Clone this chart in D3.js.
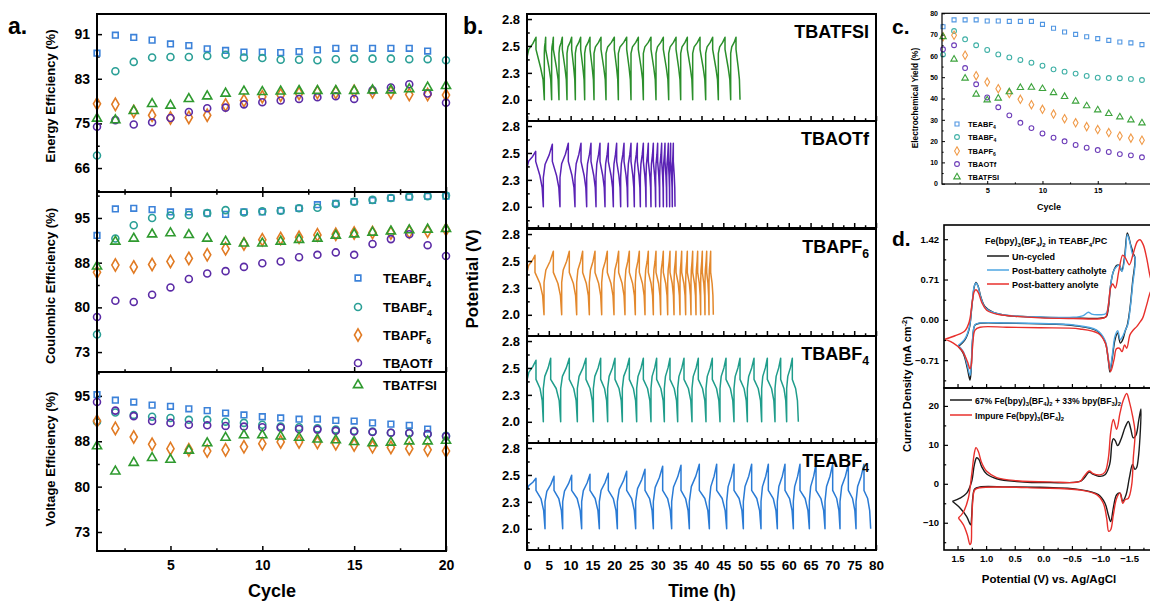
<!DOCTYPE html>
<html>
<head>
<meta charset="utf-8">
<script src="https://cdn.jsdelivr.net/npm/d3@7"></script>
<style>
  body { margin: 0; background: #fff; }
  svg { display: block; }
</style>
</head>
<body>
<svg id="fig"></svg>
<script>
var width = 1150, height = 601;
var FONT = "'Liberation Sans', Arial, Helvetica, sans-serif";

// ---------- panel a : efficiencies vs cycle ----------
var cycles = [1, 2, 3, 4, 5, 6, 7, 8, 9, 10, 11, 12, 13, 14, 15, 16, 17, 18, 19, 20];
var names = ["TEABF_4", "TBABF_4", "TBAPF_6", "TBAOTf", "TBATFSI"];

var energyTEABF4 = [87.5, 90.8, 90.4, 89.9, 89.2, 88.9, 88.3, 88.0, 87.7, 87.7, 87.6, 87.8, 88.1, 88.4, 88.4, 88.4, 88.4, 88.4, 87.9, null];
var energyTBABF4 = [68.7, 84.2, 85.9, 86.7, 86.8, 86.8, 87.0, 87.2, 86.7, 86.6, 86.3, 86.3, 86.2, 86.4, 86.5, 86.5, 86.5, 86.4, 86.4, 86.2];
var energyTBAPF6 = [78.2, 78.1, 76.8, 76.1, 75.6, 75.7, 76.1, 78.0, 78.8, 79.5, 79.8, 80.1, 80.3, 80.3, 80.5, 80.4, 80.3, 79.9, 79.9, 79.8];
var energyTBAOTf = [74.0, 75.2, 74.4, 74.8, 75.6, 76.7, 77.4, 77.5, 78.1, 78.5, 78.8, 79.1, 79.4, 79.6, 79.1, 80.7, 81.2, 81.8, 80.1, 78.4];
var energyTBATFSI = [75.5, 75.2, 76.9, 78.2, 77.9, 79.1, 79.6, 80.1, 80.5, 80.4, 80.5, 80.6, 80.6, 80.6, 80.6, 80.7, 80.7, 80.9, 81.2, 81.5];

var coulTEABF4 = [92.1, 96.5, 96.6, 96.4, 96.0, 96.0, 95.8, 95.6, 96.0, 96.0, 96.2, 96.6, 97.2, 97.4, 97.7, 97.9, 98.3, 98.5, 98.6, 98.6];
var coulTBABF4 = [75.7, 91.6, 93.8, 95.0, 95.4, 95.5, 95.8, 96.3, 95.9, 96.1, 96.2, 96.6, 96.7, 97.3, 97.7, 98.0, 98.3, 98.5, 98.6, 98.7];
var coulTBAPF6 = [86.0, 87.2, 86.9, 87.3, 87.8, 88.3, 88.9, 89.9, 90.7, 91.4, 91.6, 91.8, 92.2, 92.3, 92.5, 92.6, 92.5, 92.7, 92.8, 93.1];
var coulTBAOTf = [78.6, 81.3, 81.1, 82.3, 83.5, 84.9, 85.8, 86.2, 86.9, 87.5, 87.8, 88.5, 88.9, 89.3, 88.9, 90.7, 91.5, 92.3, 90.5, 88.7];
var coulTBATFSI = [87.0, 91.1, 91.6, 92.3, 92.5, 92.2, 91.6, 91.1, 90.8, 90.8, 91.1, 91.4, 91.6, 92.1, 92.3, 92.6, 92.8, 93.0, 93.1, 93.2];

var voltTEABF4 = [95.2, 94.3, 94.0, 93.5, 93.3, 92.9, 92.6, 92.2, 91.9, 91.6, 91.4, 91.2, 91.2, 91.0, 90.9, 90.6, 90.4, 90.2, 89.6, null];
var voltTBABF4 = [90.8, 92.3, 91.9, 91.6, 91.4, 91.1, 91.1, 90.8, 90.6, 90.3, 90.0, 89.9, 89.7, 89.5, 89.3, 89.2, 89.0, 89.0, 88.8, 88.5];
var voltTBAPF6 = [90.9, 89.7, 88.3, 87.1, 86.4, 86.2, 86.0, 86.2, 86.7, 87.2, 87.5, 87.5, 87.4, 87.2, 87.0, 86.7, 86.6, 86.4, 86.2, 86.0];
var voltTBAOTf = [94.0, 92.6, 91.7, 90.9, 90.6, 90.3, 90.2, 90.1, 90.0, 89.9, 89.8, 89.6, 89.5, 89.3, 89.2, 89.1, 89.0, 88.9, 88.8, 88.4];
var voltTBATFSI = [86.8, 82.7, 84.1, 84.9, 84.6, 86.1, 87.3, 88.2, 88.6, 88.6, 88.4, 88.2, 87.9, 87.8, 87.5, 87.3, 87.4, 87.6, 87.6, 87.7];

var aTicksEnergy = [66.4, 74.6, 82.8, 91.0];   // shown as 66, 75, 83, 91
var aTicksCV = [72.8, 80.2, 87.6, 95.0];       // shown as 73, 80, 88, 95
var aTicksCycle = [5, 10, 15, 20];

// ---------- panel b : charge/discharge curves ----------
var bTimeTicks = [0, 5, 10, 15, 20, 25, 30, 35, 40, 45, 50, 55, 60, 65, 70, 75, 80];
var bVoltTicks = [2.0, 2.2667, 2.5333, 2.8];

var tfsiPeakT = [2.06, 4.28, 6.04, 8.10, 10.24, 12.30, 14.44, 16.96, 20.02, 22.85, 25.52, 28.42, 31.25, 34.16, 36.75, 39.66, 42.56, 45.39, 47.91];
var tfsiEndT = [3.97, 5.65, 7.33, 9.17, 11.08, 13.22, 15.36, 18.11, 20.94, 23.84, 26.67, 29.57, 32.48, 35.23, 37.98, 40.96, 43.86, 46.69, 48.83];
var tfsiPeakV = [2.62, 2.62, 2.62, 2.62, 2.62, 2.62, 2.62, 2.62, 2.62, 2.62, 2.62, 2.62, 2.62, 2.62, 2.62, 2.62, 2.62, 2.62, 2.62];

var otfPeakT = [1.99, 5.81, 9.47, 12.38, 14.67, 16.73, 18.64, 20.55, 22.24, 23.84, 25.29, 26.67, 27.81, 28.96, 29.95, 30.87, 31.63, 32.40, 32.93, 33.54];
var otfEndT = [3.74, 7.56, 11.00, 13.68, 15.82, 17.88, 19.79, 21.47, 23.08, 24.60, 25.98, 27.28, 28.42, 29.49, 30.41, 31.25, 32.02, 32.70, 33.31, 33.93];
var otfPeakV = [2.55, 2.62, 2.63, 2.63, 2.63, 2.63, 2.63, 2.63, 2.63, 2.63, 2.63, 2.63, 2.63, 2.63, 2.63, 2.63, 2.63, 2.63, 2.63, 2.63];

var pf6PeakT = [1.83, 6.04, 9.70, 12.76, 15.59, 18.41, 21.01, 23.46, 25.75, 27.81, 29.57, 31.25, 32.78, 34.16, 35.46, 36.75, 37.98, 39.12, 40.19, 41.19, 42.10];
var pf6EndT = [3.90, 7.95, 11.39, 14.29, 17.12, 19.94, 22.46, 24.83, 27.05, 28.96, 30.64, 32.25, 33.70, 35.07, 36.37, 37.59, 38.74, 39.81, 40.80, 41.72, 42.71];
var pf6PeakV = [2.59, 2.63, 2.63, 2.63, 2.63, 2.63, 2.63, 2.63, 2.63, 2.63, 2.63, 2.63, 2.63, 2.63, 2.63, 2.63, 2.63, 2.63, 2.63, 2.63, 2.63];

var tbabf4PeakT = [2.06, 5.43, 9.70, 13.52, 16.89, 20.17, 23.46, 26.67, 29.72, 32.78, 35.99, 39.27, 42.48, 45.62, 48.83, 52.04, 55.09, 58.15, 60.82];
var tbabf4EndT = [3.74, 7.72, 11.54, 15.21, 18.49, 21.85, 25.14, 28.42, 31.48, 34.54, 37.82, 41.03, 44.24, 47.45, 50.51, 53.79, 56.85, 59.52, 62.20];
var tbabf4PeakV = [2.61, 2.63, 2.63, 2.63, 2.63, 2.63, 2.63, 2.63, 2.63, 2.63, 2.63, 2.63, 2.63, 2.63, 2.63, 2.63, 2.63, 2.63, 2.63];

var teabf4PeakT = [2.06, 6.19, 10.24, 14.44, 18.64, 22.85, 27.05, 31.10, 35.30, 39.50, 43.48, 47.45, 51.50, 55.32, 59.14, 62.58, 66.25, 70.07, 73.66, 77.25];
var teabf4EndT = [4.13, 8.18, 12.53, 16.58, 20.71, 24.91, 28.96, 33.16, 37.21, 41.80, 45.77, 49.59, 53.64, 57.38, 61.05, 64.72, 68.31, 71.75, 75.42, 78.78];
var teabf4PeakV = [2.50, 2.52, 2.53, 2.54, 2.55, 2.57, 2.59, 2.62, 2.63, 2.64, 2.64, 2.64, 2.64, 2.64, 2.64, 2.64, 2.64, 2.64, 2.64, 2.64];

// first voltage of each run, and [IR jump after 2.0 V, IR drop after peak, knee] voltages
var startV = [2.42, 2.39, 2.42, 2.41, 2.38];
var shapeTFSI = [2.46, 2.50, 2.30];
var shapeOTf = [2.29, 2.45, 2.29];
var shapePF6 = [2.32, 2.42, 2.29];
var shapeTBABF4 = [2.33, 2.42, 2.31];
var shapeTEABF4 = [2.27, 2.38, 2.28];

// ---------- panel c : electrochemical yield ----------
var cCycles = [1, 2, 3, 4, 5, 6, 7, 8, 9, 10, 11, 12, 13, 14, 15, 16, 17, 18, 19];
var yieldTEABF4 = [73.7, 76.9, 76.9, 76.9, 76.4, 76.4, 76.2, 76.2, 76.2, 74.8, 73.0, 71.2, 70.1, 69.0, 68.1, 67.3, 66.5, 66.1, 65.3];
var yieldTBABF4 = [60.6, 71.7, 67.8, 65.0, 62.8, 60.7, 59.3, 58.1, 56.8, 55.4, 53.7, 52.6, 51.7, 50.6, 49.8, 49.6, 49.5, 49.2, 48.7];
var yieldTBAPF6 = [69.0, 69.7, 60.3, 50.7, 47.7, 44.6, 42.3, 39.6, 37.1, 34.9, 32.7, 30.5, 28.6, 26.8, 25.4, 24.0, 22.4, 21.4, 20.4];
var yieldTBAOTf = [63.1, 65.0, 54.3, 46.7, 40.5, 35.9, 32.1, 28.6, 26.1, 23.6, 21.6, 19.9, 18.2, 16.9, 15.8, 14.9, 13.9, 13.3, 12.4];
var yieldTBATFSI = [69.0, 58.4, 49.5, 42.0, 39.3, 40.1, 43.1, 45.1, 45.2, 44.6, 42.7, 40.9, 38.7, 36.5, 34.6, 32.9, 31.3, 29.9, 28.5];
var cYTicks = [0, 10, 20, 30, 40, 50, 60, 70, 80];
var cXTicks = [5, 10, 15];

// ---------- panel d : cyclic voltammograms [potential V, current] ----------
var cvUncycled = [[1.486,-0.47],[1.369,-0.35],[1.294,-0.15],[1.247,0.26],[1.206,0.59],[1.177,0.66],[1.142,0.60],[1.095,0.41],[1.019,0.23],[0.874,0.13],[0.64,0.076],[0.058,0.047],[-0.524,0.035],[-0.991,0.03],[-1.096,0.053],[-1.137,0.205],[-1.178,0.62],[-1.225,0.85],[-1.283,0.96],[-1.33,0.96],[-1.37,0.86],[-1.42,1.1],[-1.469,1.53],[-1.528,1.32],[-1.573,1.17],[-1.603,1.09],[-1.561,0.67],[-1.516,0.21],[-1.469,-0.09],[-1.434,-0.19],[-1.388,-0.35],[-1.346,-0.41],[-1.30,-0.23],[-1.253,-0.35],[-1.206,-0.67],[-1.165,-0.92],[-1.131,-0.67],[-1.078,-0.38],[-0.933,-0.19],[-0.524,-0.10],[0.058,-0.07],[0.64,-0.06],[1.107,-0.06],[1.194,-0.09],[1.234,-0.32],[1.264,-0.91],[1.282,-1.06],[1.329,-0.85],[1.399,-0.59],[1.486,-0.47]];
var cvCatholyte = [[1.486,-0.45],[1.369,-0.33],[1.294,-0.13],[1.247,0.27],[1.206,0.60],[1.177,0.65],[1.142,0.59],[1.095,0.40],[1.019,0.22],[0.874,0.13],[0.64,0.08],[0.058,0.05],[-0.524,0.045],[-0.70,0.076],[-0.787,0.135],[-0.845,0.10],[-0.99,0.09],[-1.096,0.11],[-1.137,0.26],[-1.178,0.62],[-1.225,0.85],[-1.283,0.94],[-1.33,0.96],[-1.376,0.85],[-1.43,1.14],[-1.469,1.50],[-1.516,1.35],[-1.561,1.15],[-1.603,1.09],[-1.561,0.61],[-1.516,0.18],[-1.475,-0.09],[-1.434,-0.18],[-1.388,-0.29],[-1.346,-0.35],[-1.30,-0.19],[-1.253,-0.29],[-1.206,-0.62],[-1.165,-0.88],[-1.131,-0.64],[-1.078,-0.36],[-0.933,-0.18],[-0.524,-0.09],[0.058,-0.065],[0.64,-0.055],[1.107,-0.055],[1.194,-0.085],[1.234,-0.30],[1.264,-0.86],[1.282,-0.98],[1.329,-0.80],[1.399,-0.56],[1.486,-0.45]];
var cvAnolyte = [[1.719,-0.34],[1.544,-0.28],[1.369,-0.19],[1.294,-0.03],[1.241,0.33],[1.206,0.50],[1.177,0.53],[1.136,0.48],[1.078,0.31],[0.99,0.17],[0.816,0.10],[0.524,0.065],[0.058,0.035],[-0.524,0.023],[-0.991,0.02],[-1.09,0.05],[-1.137,0.26],[-1.178,0.57],[-1.213,0.63],[-1.259,0.56],[-1.318,0.85],[-1.388,1.14],[-1.434,1.09],[-1.504,0.97],[-1.573,1.17],[-1.643,1.38],[-1.69,1.41],[-1.748,1.32],[-1.806,1.09],[-1.876,0.73],[-1.934,0.58],[-1.876,0.50],[-1.806,0.26],[-1.736,0.03],[-1.69,-0.04],[-1.632,-0.12],[-1.573,-0.18],[-1.516,-0.26],[-1.458,-0.50],[-1.42,-0.44],[-1.376,-0.56],[-1.33,-0.50],[-1.278,-0.51],[-1.236,-0.70],[-1.178,-0.91],[-1.137,-0.70],[-1.084,-0.41],[-0.962,-0.24],[-0.64,-0.16],[0.058,-0.14],[0.64,-0.13],[1.107,-0.13],[1.194,-0.18],[1.234,-0.44],[1.264,-0.82],[1.282,-0.86],[1.329,-0.73],[1.428,-0.53],[1.573,-0.41],[1.719,-0.34]];
var cvMixed = [[1.591,-4.5],[1.457,-3.7],[1.34,-2.4],[1.253,0.6],[1.206,4.9],[1.165,6.7],[1.124,6.2],[1.078,4.4],[0.99,2.5],[0.816,1.3],[0.466,0.6],[-0.117,0.3],[-0.641,0.6],[-0.711,1.45],[-0.804,3.0],[-0.862,2.5],[-0.991,1.9],[-1.078,2.3],[-1.16,5.0],[-1.20,10.5],[-1.225,11.6],[-1.26,11.0],[-1.30,9.8],[-1.36,11.5],[-1.43,14.5],[-1.487,16.0],[-1.53,14.0],[-1.573,11.8],[-1.62,12.5],[-1.67,16.5],[-1.707,19.2],[-1.69,12.0],[-1.66,6.5],[-1.632,4.2],[-1.60,3.7],[-1.56,5.0],[-1.504,1.5],[-1.446,-2.8],[-1.388,-4.5],[-1.341,-2.4],[-1.282,-2.8],[-1.224,-6.2],[-1.178,-9.7],[-1.137,-8.0],[-1.078,-5.0],[-0.962,-2.8],[-0.641,-1.5],[0.058,-0.9],[0.64,-0.8],[1.107,-0.8],[1.2,-1.3],[1.234,-3.7],[1.253,-8.4],[1.271,-10.5],[1.34,-8.4],[1.457,-6.2],[1.591,-4.5]];
var cvImpure = [[1.486,-8.8],[1.399,-7.3],[1.311,-3.7],[1.253,2.3],[1.206,7.9],[1.177,9.3],[1.136,8.3],[1.078,5.4],[0.99,3.2],[0.816,1.6],[0.466,0.8],[-0.117,0.5],[-0.641,0.6],[-0.711,1.9],[-0.804,3.3],[-0.862,2.7],[-0.991,2.3],[-1.078,3.0],[-1.137,6.6],[-1.178,13.2],[-1.224,16.5],[-1.282,14.0],[-1.341,18.2],[-1.399,21.5],[-1.458,23.2],[-1.504,21.1],[-1.562,17.3],[-1.603,13.4],[-1.573,6.6],[-1.545,-0.3],[-1.487,-3.7],[-1.43,-4.1],[-1.388,-5.0],[-1.341,-2.4],[-1.282,-3.7],[-1.224,-8.0],[-1.178,-11.8],[-1.143,-12.2],[-1.107,-8.8],[-1.049,-5.0],[-0.933,-2.8],[-0.641,-1.6],[0.058,-1.1],[1.107,-1.0],[1.2,-1.6],[1.234,-4.6],[1.253,-10.5],[1.264,-15.2],[1.282,-15.6],[1.329,-13.1],[1.399,-10.5],[1.486,-8.8]];
var dXTicks = [-1.5, -1.0, -0.5, 0, 0.5, 1.0, 1.5];
var dTopTicks = [-0.71, 0, 0.71, 1.42];
var dBotTicks = [-10, 0, 10, 20];

// ---------- styles ----------
var colorsA = ["#3c82d9", "#2a9f96", "#e17b24", "#5b2ba6", "#2f9a2f"];
var colorsC = ["#5096e2", "#3fb0a6", "#f09a48", "#6d3db8", "#3da33d"];
var symTypes = [d3.symbolSquare, d3.symbolCircle, d3.symbolDiamond, d3.symbolCircle, d3.symbolTriangle];

var svg = d3.select("#fig").attr("width", width).attr("height", height);
var defs = svg.append("defs");

// text with _x subscripts and ^x superscripts
function rich(sel, str, fs) {
    sel.attr("font-size", fs);
    var parts = [], buf = "";
    for (var i = 0; i < str.length; i++) {
        var c = str[i];
        if ((c === "_" || c === "^") && i + 1 < str.length) {
            if (buf) { parts.push([buf, 0]); buf = ""; }
            parts.push([str[i + 1], c === "_" ? 1 : -1]);
            i++;
        } else buf += c;
    }
    if (buf) parts.push([buf, 0]);
    var cur = 0;
    parts.forEach(function (p) {
        var off = p[1] === 1 ? 0.3 * fs : (p[1] === -1 ? -0.4 * fs : 0);
        sel.append("tspan").attr("dy", off - cur).attr("font-size", p[1] ? fs * 0.68 : fs).text(p[0]);
        cur = off;
    });
    return sel;
}

function txt(g, x, y, str, fs, anchor, rot) {
    var t = g.append("text").attr("x", x).attr("y", y)
        .attr("font-family", FONT).attr("font-weight", "bold")
        .attr("text-anchor", anchor || "start").attr("fill", "#000");
    if (rot) t.attr("transform", "rotate(-90," + x + "," + y + ")");
    return rich(t, str, fs);
}

function minorVals(major, domain) {
    var s = major[1] - major[0];
    var lo = Math.min(domain[0], domain[1]), hi = Math.max(domain[0], domain[1]);
    var out = [];
    for (var v = major[0] - s / 2; v >= lo; v -= s) out.push(v);
    for (var v2 = major[0] + s / 2; v2 <= hi; v2 += s) out.push(v2);
    return out;
}

function styleAxis(a, o) {
    a.select(".domain").remove();
    a.selectAll(".tick line").attr("stroke", "#000").attr("stroke-width", o.sw);
    a.selectAll(".tick text").attr("font-family", FONT).attr("font-weight", "bold")
        .attr("font-size", o.fs).attr("fill", "#000");
}

function yAxis(g, scale, x, major, fmt, o) {
    var a = g.append("g").attr("transform", "translate(" + x + ",0)")
        .call(d3.axisLeft(scale).tickValues(major).tickSize(-o.len).tickPadding(o.pad).tickFormat(fmt));
    styleAxis(a, o);
    var m = g.append("g").attr("transform", "translate(" + x + ",0)")
        .call(d3.axisLeft(scale).tickValues(minorVals(major, scale.domain())).tickSize(-o.len * 0.55).tickFormat(""));
    styleAxis(m, o);
}

function xAxis(g, scale, y, major, fmt, o, dir) {
    var sz = dir === "down" ? o.len : -o.len;
    var a = g.append("g").attr("transform", "translate(0," + y + ")")
        .call(d3.axisBottom(scale).tickValues(major).tickSize(sz).tickPadding(o.pad).tickFormat(fmt));
    styleAxis(a, o);
    if (dir === "down") a.selectAll(".tick text").remove();
    var m = g.append("g").attr("transform", "translate(0," + y + ")")
        .call(d3.axisBottom(scale).tickValues(minorVals(major, scale.domain())).tickSize(sz * 0.55).tickFormat(""));
    styleAxis(m, o);
}

function frame(g, x0, y0, x1, y1, sw) {
    g.append("rect").attr("x", x0).attr("y", y0).attr("width", x1 - x0).attr("height", y1 - y0)
        .attr("fill", "none").attr("stroke", "#000").attr("stroke-width", sw);
}

// =============== panel a ===============
var gA = svg.append("g");
var aX = d3.scaleLinear().domain([1, 20]).range([97, 446]);
var aPanels = [
    { top: 14, bot: 192, dom: [62, 94.7], ticks: aTicksEnergy, data: [energyTEABF4, energyTBABF4, energyTBAPF6, energyTBAOTf, energyTBATFSI], title: "Energy Efficiency (%)", ty: 96 },
    { top: 192, bot: 372, dom: [69.5, 99.3], ticks: aTicksCV, data: [coulTEABF4, coulTBABF4, coulTBAPF6, coulTBAOTf, coulTBATFSI], title: "Coulombic Efficiency (%)", ty: 286 },
    { top: 372, bot: 551, dom: [69.7, 98.9], ticks: aTicksCV, data: [voltTEABF4, voltTBABF4, voltTBAPF6, voltTBAOTf, voltTBATFSI], title: "Voltage Efficiency (%)", ty: 459 }
];
var aSizes = [32, 38, 44, 38, 36];

aPanels.forEach(function (p, k) {
    var y = d3.scaleLinear().domain(p.dom).range([p.bot, p.top]);
    var axo = { len: 5, pad: 7, sw: 1.5, fs: 14 };
    yAxis(gA, y, 97, p.ticks, function (d) { return Math.round(d); }, axo);
    xAxis(gA, aX, p.bot, aTicksCycle, k === 2 ? d3.format("d") : "", { len: 5, pad: 9, sw: 1.5, fs: 14 });
    if (k === 1) xAxis(gA, aX, p.top, aTicksCycle, "", { len: 5, pad: 9, sw: 1.5, fs: 14 }, "down");
    p.data.forEach(function (vals, s) {
        gA.append("g").selectAll("path")
            .data(cycles.map(function (c, i) { return [c, vals[i]]; }).filter(function (d) { return d[1] != null; }))
            .enter().append("path")
            .attr("d", d3.symbol().type(symTypes[s]).size(aSizes[s]))
            .attr("transform", function (d) { return "translate(" + aX(d[0]) + "," + y(d[1]) + ")"; })
            .attr("fill", "none").attr("stroke", colorsA[s]).attr("stroke-width", 1.6);
    });
    frame(gA, 97, p.top, 446, p.bot, 2);
    txt(gA, 55, p.ty, p.title, 13, "middle", true);
});

// legend a
var aLegY = [278, 307, 335, 363, 385];
names.forEach(function (n, s) {
    gA.append("path").attr("d", d3.symbol().type(symTypes[s]).size(aSizes[s]))
        .attr("transform", "translate(358," + aLegY[s] + ")")
        .attr("fill", "none").attr("stroke", colorsA[s]).attr("stroke-width", 1.6);
    txt(gA, 383, aLegY[s] + 5, n, 13, "start");
});
txt(gA, 272, 597, "Cycle", 18, "middle");
txt(gA, 8, 34, "a.", 23, "start");

// =============== panel b ===============
var gB = svg.append("g");
var bX = d3.scaleLinear().domain([0, 80]).range([527, 876]);
var bTops = [14, 121, 229, 336, 443];
var bH = 107;
var bSeries = [
    { name: "TBATFSI", color: "#2b8f2b", peaks: tfsiPeakT, ends: tfsiEndT, pv: tfsiPeakV, shape: shapeTFSI },
    { name: "TBAOTf", color: "#5a22b5", peaks: otfPeakT, ends: otfEndT, pv: otfPeakV, shape: shapeOTf },
    { name: "TBAPF_6", color: "#e3882c", peaks: pf6PeakT, ends: pf6EndT, pv: pf6PeakV, shape: shapePF6 },
    { name: "TBABF_4", color: "#1f9d8b", peaks: tbabf4PeakT, ends: tbabf4EndT, pv: tbabf4PeakV, shape: shapeTBABF4 },
    { name: "TEABF_4", color: "#2a7bd5", peaks: teabf4PeakT, ends: teabf4EndT, pv: teabf4PeakV, shape: shapeTEABF4 }
];

function gcdPoints(v0, peaks, ends, pv, shape) {
    var pts = [[0, 1.6], [0, v0]];
    var b = 0, vs = v0;
    peaks.forEach(function (p, i) {
        if (i > 0) { pts.push([b, shape[0]]); vs = shape[0]; }
        var dc = p - b, vp = pv[i];
        pts.push([b + 0.2 * dc, vs + 0.4 * (vp - vs)]);
        pts.push([b + 0.65 * dc, vs + 0.68 * (vp - vs)]);
        pts.push([p, vp]);
        pts.push([p, shape[1]]);
        var e = ends[i], dd = e - p;
        pts.push([p + 0.55 * dd, shape[2] + 0.02]);
        pts.push([p + 0.85 * dd, shape[2] - 0.1]);
        pts.push([e, 2.0]);
        b = e;
    });
    return pts;
}

bSeries.forEach(function (s, k) {
    var top = bTops[k], bot = top + bH;
    var y = d3.scaleLinear().domain([1.79, 2.85]).range([bot, top]);
    defs.append("clipPath").attr("id", "clipB" + k).append("rect")
        .attr("x", 527).attr("y", top).attr("width", 349).attr("height", bH);
    var line = d3.line().x(function (d) { return bX(d[0]); }).y(function (d) { return y(d[1]); });
    gB.append("path").datum(gcdPoints(startV[k], s.peaks, s.ends, s.pv, s.shape))
        .attr("d", line).attr("clip-path", "url(#clipB" + k + ")")
        .attr("fill", "none").attr("stroke", s.color).attr("stroke-width", 1.5).attr("stroke-linejoin", "round");
    yAxis(gB, y, 527, bVoltTicks, d3.format(".1f"), { len: 5, pad: 7, sw: 1.5, fs: 13 });
    xAxis(gB, bX, bot, bTimeTicks, k === 4 ? d3.format("d") : "", { len: 5, pad: 10, sw: 1.5, fs: 13.5 });
    frame(gB, 527, top, 876, bot, 2);
    txt(gB, 869, top + 24, s.name, 18, "end");
});
txt(gB, 478, 279, "Potential (V)", 17, "middle", true);
txt(gB, 702, 597, "Time (h)", 17.5, "middle");
txt(gB, 463, 34, "b.", 23, "start");

// =============== panel c ===============
var gC = svg.append("g");
var cX = d3.scaleLinear().domain([1, 20]).range([943, 1153]);
var cY = d3.scaleLinear().domain([0, 80]).range([183.7, 13.3]);
var cSizes = [16, 18, 20, 18, 18];
yAxis(gC, cY, 942, cYTicks, d3.format("d"), { len: 3, pad: 4, sw: 1, fs: 7 });
xAxis(gC, cX, 184, cXTicks, d3.format("d"), { len: 3, pad: 4, sw: 1, fs: 7.5 });
[yieldTEABF4, yieldTBABF4, yieldTBAPF6, yieldTBAOTf, yieldTBATFSI].forEach(function (vals, s) {
    gC.append("g").selectAll("path")
        .data(cCycles.map(function (c, i) { return [c, vals[i]]; }))
        .enter().append("path")
        .attr("d", d3.symbol().type(symTypes[s]).size(cSizes[s]))
        .attr("transform", function (d) { return "translate(" + cX(d[0]) + "," + cY(d[1]) + ")"; })
        .attr("fill", "none").attr("stroke", colorsC[s]).attr("stroke-width", 1.1);
});
frame(gC, 942, 13.3, 1154, 184, 1.2);
var cLegY = [124, 137, 151, 164, 177];
names.forEach(function (n, s) {
    gC.append("path").attr("d", d3.symbol().type(symTypes[s]).size(cSizes[s]))
        .attr("transform", "translate(957," + cLegY[s] + ")")
        .attr("fill", "none").attr("stroke", colorsC[s]).attr("stroke-width", 1.1);
    txt(gC, 968, cLegY[s] + 3, n, 7.5, "start");
});
txt(gC, 918, 98, "Electrochemical Yield (%)", 8.3, "middle", true);
txt(gC, 1049, 210, "Cycle", 9, "middle");
txt(gC, 892, 34, "c.", 21, "start");

// =============== panel d ===============
var gD = svg.append("g");
var dX = d3.scaleLinear().domain([1.74, -1.9]).range([943.8, 1152]);
var dYTop = d3.scaleLinear().domain([-1.2, 1.67]).range([388, 225]);
var dYBot = d3.scaleLinear().domain([-17, 24.6]).range([550, 388]);
defs.append("clipPath").attr("id", "clipDT").append("rect").attr("x", 944).attr("y", 225).attr("width", 220).attr("height", 163);
defs.append("clipPath").attr("id", "clipDB").append("rect").attr("x", 944).attr("y", 388).attr("width", 220).attr("height", 162);

function cvLine(y) {
    return d3.line().x(function (d) { return dX(d[0]); }).y(function (d) { return y(d[1]); })
        .curve(d3.curveCatmullRom.alpha(0.5));
}
var dTopCurves = [[cvUncycled, "#1b1b1b"], [cvCatholyte, "#4ea6e2"], [cvAnolyte, "#e8302c"]];
dTopCurves.forEach(function (c) {
    gD.append("path").datum(c[0]).attr("d", cvLine(dYTop)).attr("clip-path", "url(#clipDT)")
        .attr("fill", "none").attr("stroke", c[1]).attr("stroke-width", 1.4);
});
var dBotCurves = [[cvMixed, "#1b1b1b"], [cvImpure, "#e8302c"]];
dBotCurves.forEach(function (c) {
    gD.append("path").datum(c[0]).attr("d", cvLine(dYBot)).attr("clip-path", "url(#clipDB)")
        .attr("fill", "none").attr("stroke", c[1]).attr("stroke-width", 1.4);
});

yAxis(gD, dYTop, 944, dTopTicks, d3.format(".2f"), { len: 4, pad: 5, sw: 1.2, fs: 9.5 });
yAxis(gD, dYBot, 944, dBotTicks, d3.format("d"), { len: 4, pad: 5, sw: 1.2, fs: 9.5 });
xAxis(gD, dX, 550, dXTicks, d3.format(".1f"), { len: 4, pad: 5, sw: 1.2, fs: 9.5 });
xAxis(gD, dX, 388, dXTicks, "", { len: 4, pad: 5, sw: 1.2, fs: 9.5 });
frame(gD, 944, 225, 1156, 388, 1.6);
frame(gD, 944, 388, 1156, 550, 1.6);

// legends d
txt(gD, 985, 244, "Fe(bpy)_3(BF_4)_2 in TEABF_4/PC", 9, "start");
var dLeg1 = [["Un-cycled", "#1b1b1b"], ["Post-battery catholyte", "#4ea6e2"], ["Post-battery anolyte", "#e8302c"]];
dLeg1.forEach(function (l, i) {
    var yy = 256 + i * 14;
    gD.append("line").attr("x1", 987).attr("x2", 1009).attr("y1", yy).attr("y2", yy)
        .attr("stroke", l[1]).attr("stroke-width", 1.5);
    txt(gD, 1012, yy + 3.5, l[0], 9, "start");
});
var dLeg2 = [["67% Fe(bpy)_3(BF_4)_2 + 33% bpy(BF_3)_2", "#1b1b1b"], ["Impure Fe(bpy)_3(BF_4)_2", "#e8302c"]];
dLeg2.forEach(function (l, i) {
    var yy = 400 + i * 15;
    gD.append("line").attr("x1", 950).attr("x2", 972).attr("y1", yy).attr("y2", yy)
        .attr("stroke", l[1]).attr("stroke-width", 1.5);
    txt(gD, 975, yy + 3.5, l[0], 8.6, "start");
});
txt(gD, 911, 384, "Current Density (mA cm^-^2)", 11, "middle", true);
txt(gD, 1049, 583, "Potential (V) vs. Ag/AgCl", 11.5, "middle");
txt(gD, 892, 246, "d.", 21, "start");
</script>
</body>
</html>
